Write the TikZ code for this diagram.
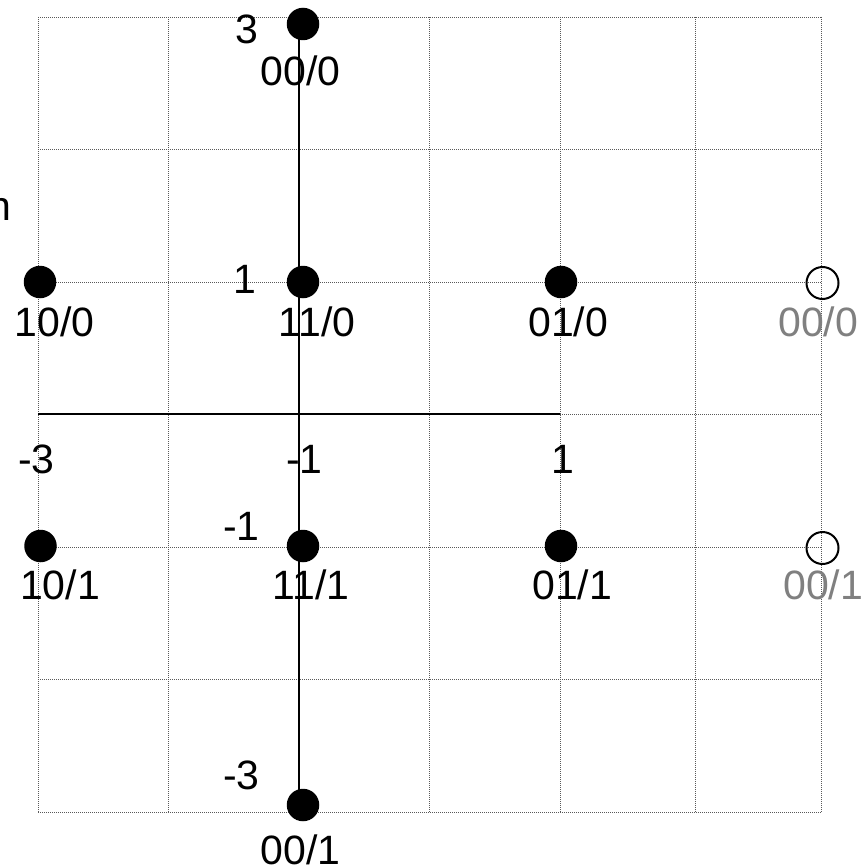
\documentclass[tikz,border=0pt]{standalone}
\usepackage{fontspec}
\setmainfont{Liberation Sans}
\begin{document}
\begin{tikzpicture}[x=1pt,y=-1pt,
  gridline/.style={draw=black!65,line width=0.9pt,dash pattern=on 1pt off 1pt},
  axisline/.style={draw=black,line width=2.4pt},
  fulldot/.style={circle,fill=black,inner sep=0pt,minimum size=32.5pt},
  opendot/.style={circle,draw=black,line width=2pt,inner sep=0pt,minimum size=32pt},
  lbl/.style={anchor=base west,inner sep=0pt,font=\fontsize{41}{48}\selectfont,text=black},
  glbl/.style={lbl,text=black!50}]
\useasboundingbox (0,0) rectangle (861,867);
% grid
\foreach \gx in {38,168.5,299,429.4,560,695.5,821}{\draw[gridline] (\gx,17) -- (\gx,812);}
\foreach \gy in {17,149.5,282,414.5,547,679.5,812}{\draw[gridline] (38,\gy) -- (821,\gy);}
% axes
\coordinate (vtop) at (299,24);
\coordinate (vbot) at (299,805);
\coordinate (hleft) at (38,414);
\coordinate (hright) at (560,414);
\draw[axisline] (vtop) -- (vbot);
\draw[axisline] (hleft) -- (hright);
% dots
\node[fulldot] (p000) at (303,24) {};
\node[fulldot] (p100) at (40,282) {};
\node[fulldot] (p110) at (303,282) {};
\node[fulldot] (p010) at (561,282) {};
\node[fulldot] (p101) at (40.5,546) {};
\node[fulldot] (p111) at (303,546) {};
\node[fulldot] (p011) at (561,546) {};
\node[fulldot] (p001) at (303,805) {};
\node[opendot] (q000) at (822.5,283) {};
\node[opendot] (q001) at (822.5,548) {};
% labels
\node[lbl] (tn) at (-12,220.7) {n};
\node[lbl] (t3) at (235,44) {3};
\node[lbl] (l000) at (260.5,85.7) {00/0};
\node[lbl] (t1a) at (233,293) {1};
\node[lbl] (l100) at (14.3,336) {10/0};
\node[lbl] (l110) at (278.3,336) {11/0};
\node[lbl] (l010) at (528,336) {01/0};
\node[glbl] (g000) at (778,336) {00/0};
\node[lbl] (tm3a) at (18,473) {-3};
\node[lbl] (tm1a) at (286,473) {-1};
\node[lbl] (t1b) at (551.5,473) {1};
\node[lbl] (tm1b) at (223,540) {-1};
\node[lbl] (l101) at (20,599) {10/1};
\node[lbl] (l111) at (272.3,599) {11/1};
\node[lbl] (l011) at (532,599) {01/1};
\node[glbl] (g001) at (783,599) {00/1};
\node[lbl] (tm3b) at (223,789.6) {-3};
\node[lbl] (l001) at (260.5,864) {00/1};
\end{tikzpicture}
\end{document}
